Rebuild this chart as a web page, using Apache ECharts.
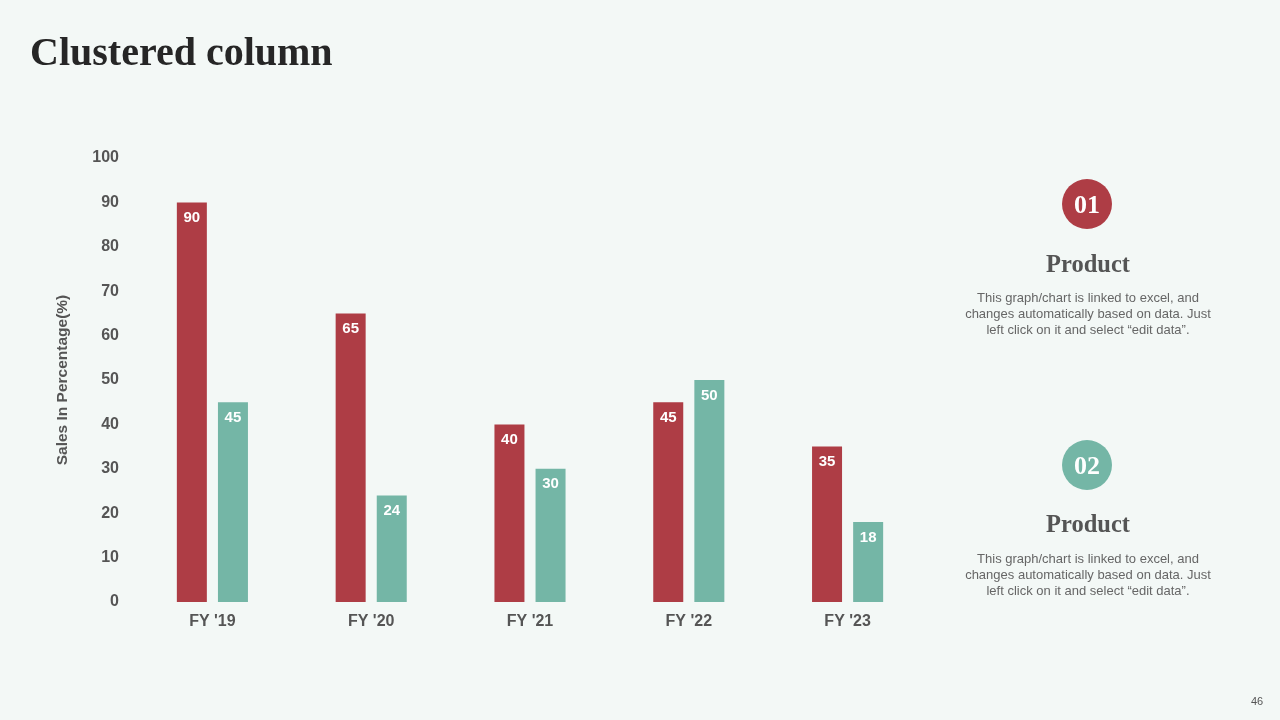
<!DOCTYPE html>
<html>
<head>
<meta charset="utf-8">
<script src="https://cdn.jsdelivr.net/npm/echarts@6/dist/echarts.min.js"></script>
<style>
html,body{margin:0;padding:0;background:#F3F8F6;}
#main{width:1280px;height:720px;}
</style>
</head>
<body>
<div id="main"></div>
<script>
const categories = ["FY '19", "FY '20", "FY '21", "FY '22", "FY '23"];
const product1 = [90, 65, 40, 45, 35];
const product2 = [45, 24, 30, 50, 18];
const yTicks = { min: 0, max: 100, interval: 10 };

const RED = '#AE3D45';
const TEAL = '#74B6A6';
const bodyText = 'This graph/chart is linked to excel, and\nchanges automatically based on data. Just\nleft click on it and select \u201Cedit data\u201D.';

const chart = echarts.init(document.getElementById('main'));
chart.setOption({
  backgroundColor: '#F3F8F6',
  animation: false,
  title: {
    text: 'Clustered column',
    left: 30, top: 35, padding: 0,
    textStyle: { fontFamily: 'Liberation Serif, serif', fontWeight: 'bold', fontSize: 40, color: '#262626' }
  },
  grid: { left: 133, top: 158, width: 794, height: 444 },
  xAxis: {
    type: 'category',
    data: categories,
    axisLine: { show: false },
    axisTick: { show: false },
    axisLabel: { color: '#555555', fontWeight: 'bold', fontSize: 16, fontFamily: 'Liberation Sans, Arial', margin: 12 }
  },
  yAxis: {
    type: 'value',
    min: yTicks.min, max: yTicks.max, interval: yTicks.interval,
    name: 'Sales In Percentage(%)',
    nameLocation: 'middle',
    nameGap: 62,
    nameTextStyle: { color: '#555555', fontWeight: 'bold', fontSize: 15.5, fontFamily: 'Liberation Sans, Arial' },
    splitLine: { show: false },
    axisLine: { show: false },
    axisTick: { show: false },
    axisLabel: { color: '#555555', fontWeight: 'bold', fontSize: 16, fontFamily: 'Liberation Sans, Arial', margin: 14 }
  },
  series: [
    {
      name: 'Product 01', type: 'bar', data: product1,
      barWidth: 30, barGap: '37%',
      itemStyle: { color: RED },
      label: { show: true, position: 'insideTop', distance: 8, color: '#fff', fontWeight: 'bold', fontSize: 15, fontFamily: 'Liberation Sans, Arial' }
    },
    {
      name: 'Product 02', type: 'bar', data: product2,
      barWidth: 30,
      itemStyle: { color: TEAL },
      label: { show: true, position: 'insideTop', distance: 8, color: '#fff', fontWeight: 'bold', fontSize: 15, fontFamily: 'Liberation Sans, Arial' }
    }
  ],
  graphic: [
    { type: 'circle', shape: { cx: 1087, cy: 204, r: 25 }, style: { fill: RED } },
    { type: 'text', x: 1087, y: 206, style: { text: '01', fill: '#fff', font: 'bold 26px "Liberation Serif", serif', align: 'center', verticalAlign: 'middle' } },
    { type: 'text', x: 1088, y: 266, style: { text: 'Product', fill: '#555555', font: 'bold 24.5px "Liberation Serif", serif', align: 'center', verticalAlign: 'middle' } },
    { type: 'text', x: 1088, y: 314, style: { text: bodyText, fill: '#666666', font: '13px "Liberation Sans", Arial', align: 'center', verticalAlign: 'middle', lineHeight: 16 } },
    { type: 'circle', shape: { cx: 1087, cy: 465, r: 25 }, style: { fill: TEAL } },
    { type: 'text', x: 1087, y: 467, style: { text: '02', fill: '#fff', font: 'bold 26px "Liberation Serif", serif', align: 'center', verticalAlign: 'middle' } },
    { type: 'text', x: 1088, y: 526, style: { text: 'Product', fill: '#555555', font: 'bold 24.5px "Liberation Serif", serif', align: 'center', verticalAlign: 'middle' } },
    { type: 'text', x: 1088, y: 575, style: { text: bodyText, fill: '#666666', font: '13px "Liberation Sans", Arial', align: 'center', verticalAlign: 'middle', lineHeight: 16 } },
    { type: 'text', x: 1257, y: 702, style: { text: '46', fill: '#555555', font: '11px "Liberation Sans", Arial', align: 'center', verticalAlign: 'middle' } }
  ]
});
</script>
</body>
</html>
